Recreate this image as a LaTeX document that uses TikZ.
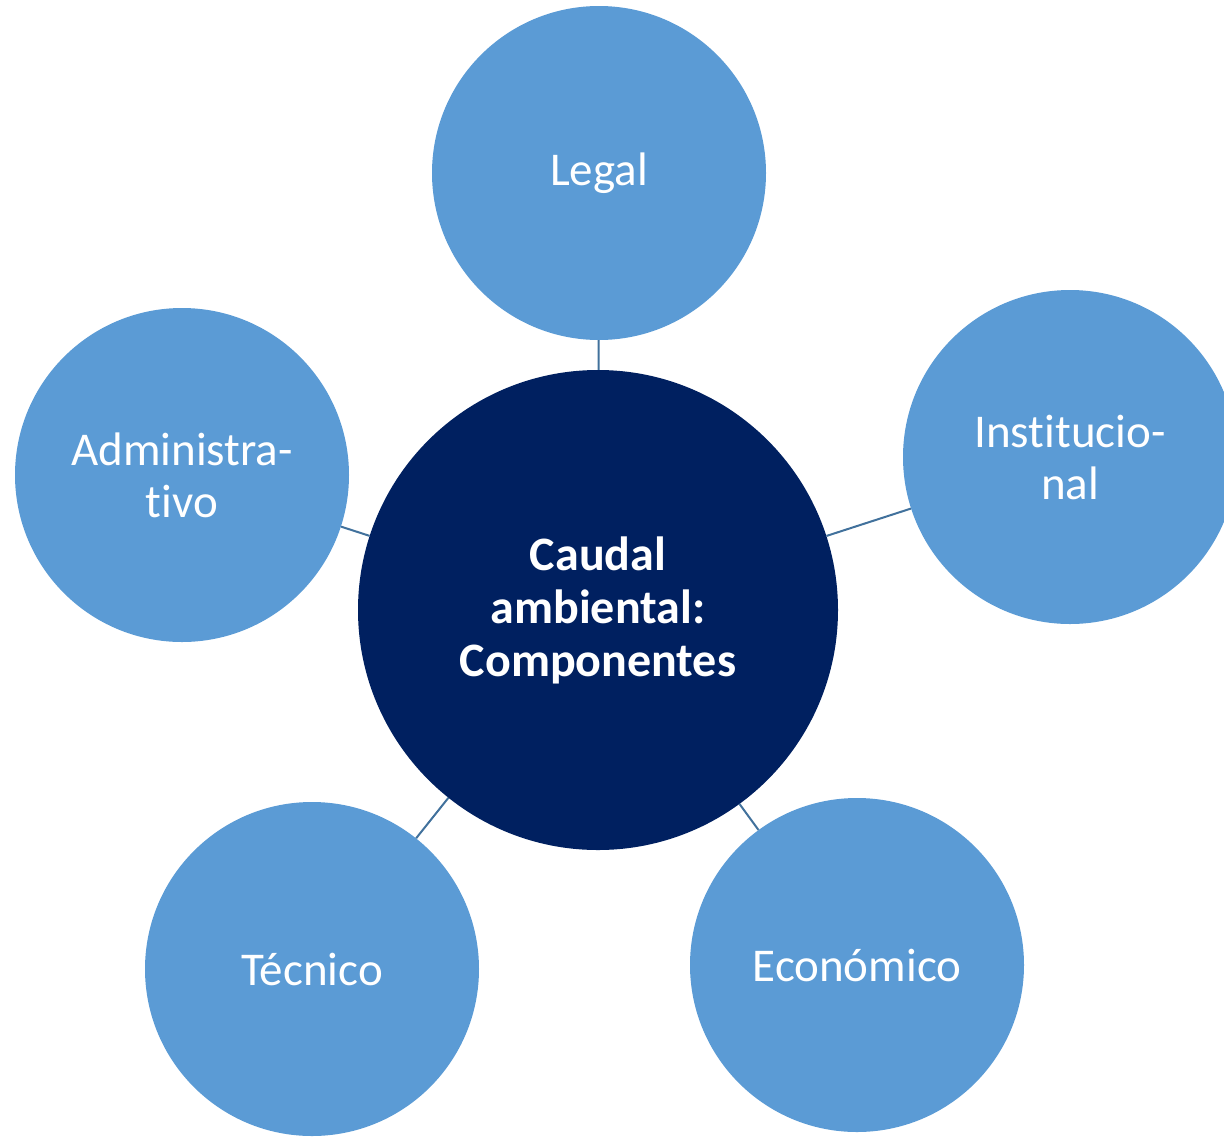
\documentclass[tikz,border=0pt]{standalone}
\usepackage{fontspec}
\setmainfont[Ligatures=NoCommon]{Carlito}
\definecolor{satblue}{HTML}{5B9BD5}
\definecolor{hubblue}{HTML}{002060}
\definecolor{lnkblue}{HTML}{41719C}
\tikzset{sat/.style={circle,fill=satblue,text=white,minimum size=334pt,inner sep=0pt,align=center,font=\fontsize{47}{52}\selectfont},hub/.style={circle,fill=hubblue,text=white,minimum size=480pt,inner sep=0pt,align=center,font=\fontsize{48}{53}\selectfont\bfseries},lnk/.style={draw=lnkblue,line width=2pt}}
\begin{document}
\begin{tikzpicture}[x=1pt,y=-1pt]
\clip(0,0)rectangle(1224,1136);
\node[hub](C)at(598,610){Caudal\\ambiental:\\Componentes};
\node[sat](L)at(599,173){Legal};\node[sat](I)at(1070,457){Institucio-\\nal};
\node[sat](E)at(857,965){Económico};\node[sat](T)at(312,969){Técnico};
\node[sat](A)at(182,475){Administra-\\tivo};
\foreach\b in{L,I,E,T,A}\draw[lnk](C)--(\b);
\end{tikzpicture}
\end{document}
